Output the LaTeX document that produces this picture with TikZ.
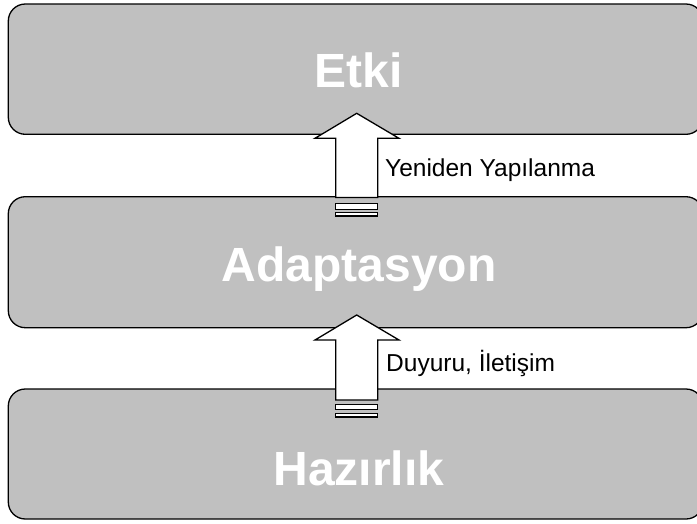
\documentclass[tikz,border=0pt]{standalone}
\usepackage{fontspec}
\setmainfont{Liberation Sans}
\begin{document}
\begin{tikzpicture}[x=1pt,y=-1pt,
  stage/.style={draw=black, line width=1.3pt, fill=stagegray, rounded corners=17pt,
    minimum width=694.7pt, inner sep=0pt},
  stagetext/.style={anchor=base, text=white, font=\fontsize{48}{50}\selectfont\bfseries, inner sep=0pt},
  blockarrow/.style={draw=black, line width=1.3pt, fill=white, line join=miter},
  arrowlabel/.style={anchor=base west, font=\fontsize{24.5}{26}\selectfont, inner sep=0pt}]
\definecolor{stagegray}{RGB}{192,192,192}
\useasboundingbox (0,0) rectangle (697,523);
\begin{scope}
\clip (0,0) rectangle (697,523);
% stages
\node[stage, minimum height=130.3pt] (etki) at (355.65,69.15) {};
\node[stage, minimum height=131pt] (adapt) at (355.65,262.2) {};
\node[stage, minimum height=130pt] (hazir) at (355.65,454) {};
\end{scope}
\node[stagetext] (t1) at (358.5,87.5) {Etki};
\node[stagetext] (t2) at (359.2,281.7) {Adaptasyon};
\node[stagetext] (t3) at (358.8,485) {Hazırlık};
% arrow 1: adapt -> etki
\draw[blockarrow] (335.7,197.5) -- (335.7,138.3) -- (315,138.3) -- (356.7,113.3)
  -- (399,138.3) -- (377.7,138.3) -- (377.7,197.5) -- cycle;
\draw[blockarrow] (335.7,203.3) rectangle (377.7,209.3);
\draw[blockarrow] (335.7,212.7) rectangle (377.7,216);
% arrow 2: hazir -> adapt
\draw[blockarrow] (335.7,400) -- (335.7,340) -- (315,340) -- (356.7,315)
  -- (399,340) -- (377.7,340) -- (377.7,400) -- cycle;
\draw[blockarrow] (335.7,404.3) rectangle (377.7,409.3);
\draw[blockarrow] (335.7,413.3) rectangle (377.7,417);
% labels
\node[arrowlabel] (l1) at (385,176.7) {Yeniden Yapılanma};
\node[arrowlabel] (l2) at (386,371) {Duyuru, İletişim};
\end{tikzpicture}
\end{document}
